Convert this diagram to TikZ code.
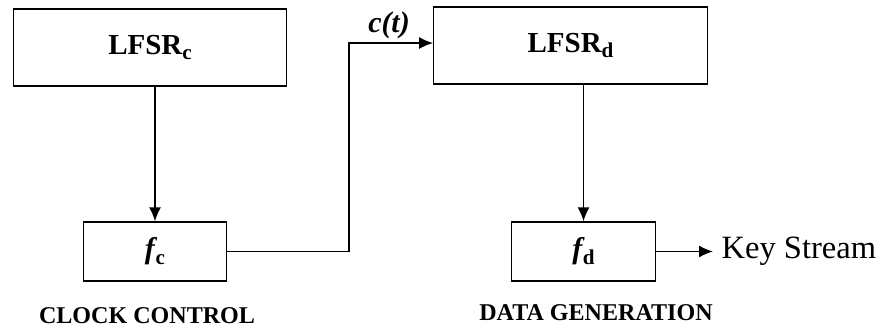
\documentclass[tikz,border=0pt]{standalone}
\usepackage{fontspec}
\setmainfont{Liberation Serif}
\usetikzlibrary{arrows.meta}
\newcommand{\lowsub}[1]{\raisebox{-0.4ex}{\fontsize{12}{12}\selectfont #1}}

\begin{document}
\begin{tikzpicture}[x=0.02cm,y=-0.02cm,line width=0.8pt,>={Latex[length=0.28cm,width=0.24cm]},
  bigbox/.style={draw,minimum width=5.47cm,minimum height=1.54cm,font=\fontsize{16.5}{19}\selectfont\bfseries},
  smallbox/.style={draw,minimum width=2.87cm,minimum height=1.18cm,font=\fontsize{17}{19}\selectfont\bfseries},
  caption/.style={font=\fontsize{13.7}{15}\selectfont\bfseries}]
\useasboundingbox (0,0) rectangle (882,329);
\node[bigbox] (lfsrc) at (150,47.5) {LFSR\lowsub{c}};
\node[smallbox] (fc) at (155,251.5) {\textit{f}\kern-1pt\lowsub{c}};
\node[bigbox] (lfsrd) at (570.5,45.5) {LFSR\lowsub{d}};
\node[smallbox] (fd) at (583.5,251.5) {\textit{f}\kern-1pt\lowsub{d}};
\node[anchor=west,inner sep=0.16cm,font=\fontsize{18.5}{21}\selectfont] (keys) at (713,251.5) {Key Stream};
\node[font=\fontsize{17}{19}\selectfont\bfseries\itshape] (ct) at (389,25) {c(t)};
\node[caption] (clk) at (147,316) {CLOCK CONTROL};
\node[caption] (gen) at (596,313) {DATA GENERATION};
\coordinate (bend) at (349,43);
\draw [->] (fc.north |- lfsrc.south) -- (fc.north);
\draw [->] (fd.north |- lfsrd.south) -- (fd.north);
\draw [->] (fc.east) -| (bend) -- (bend -| lfsrd.west);
\draw [->] (fd.east) -- (fd.east -| keys.west);
\end{tikzpicture}
\end{document}
